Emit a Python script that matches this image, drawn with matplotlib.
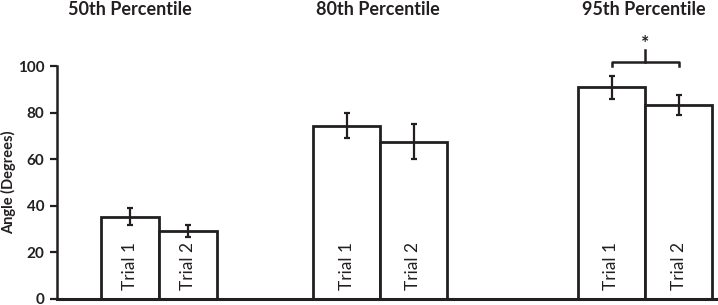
import matplotlib.pyplot as plt

groups = ['50th Percentile', '80th Percentile', '95th Percentile']
trials = ['Trial 1', 'Trial 2']
trial1 = [35.4, 74.4, 90.8]
trial2 = [29.1, 67.5, 83.3]
trial1_err = [3.6, 5.3, 4.9]
trial2_err = [2.6, 7.6, 4.4]
yticks = [0, 20, 40, 60, 80, 100]

# layout (axes units = pixels from the y axis)
centers = [102, 323, 588]
widths = [58, 67, 67]
title_x = [73, 321, 587]
ink = '#231f20'

plt.rcParams['font.family'] = ['Lato', 'DejaVu Sans']

fig = plt.figure(figsize=(7.18, 3.05), dpi=100)
ax = fig.add_axes([57 / 718, 6 / 305, 1 - 57 / 718, 233 / 305])

for i in range(len(groups)):
    w = widths[i]
    xs = [centers[i] - w / 2, centers[i] + w / 2]
    vals = [trial1[i], trial2[i]]
    errs = [trial1_err[i], trial2_err[i]]
    ax.bar(xs, vals, width=w, color='white', edgecolor=ink, linewidth=2.0, zorder=2)
    ax.errorbar(xs, vals, yerr=errs, fmt='none', ecolor=ink, elinewidth=1.6,
                capsize=2, capthick=1.6, zorder=3)
    for x, lab in zip(xs, trials):
        ax.text(x, 3.8, lab, rotation=90, ha='center', va='bottom', fontsize=12.5,
                color=ink, zorder=4)
    ax.text(title_x[i], 121.9, groups[i], ha='center', va='baseline', fontsize=13,
            fontweight='bold', color=ink, clip_on=False)

# significance bracket for 95th percentile
x1 = centers[2] - widths[2] / 2
x2 = centers[2] + widths[2] / 2
xm = (x1 + x2) / 2
ax.plot([x1, x1, x2, x2], [100.2, 101.8, 101.8, 100.2], color=ink, lw=1.8, clip_on=False)
ax.plot([xm, xm], [101.8, 106.9], color=ink, lw=1.8, clip_on=False)
ax.text(xm, 109.5, '*', ha='center', va='center', fontsize=14, fontweight='bold',
        color=ink, clip_on=False)

ax.set_xlim(0, 661)
ax.set_ylim(0, 100)
ax.set_yticks(yticks)
ax.set_yticklabels([str(t) for t in yticks], fontsize=11, fontweight='bold', color=ink)
ax.set_xticks([])
ax.tick_params(axis='y', length=5, width=1.6, color=ink, pad=4)
ax.spines['top'].set_visible(False)
ax.spines['right'].set_visible(False)
ax.spines['left'].set_linewidth(1.8)
ax.spines['bottom'].set_linewidth(2.2)
ax.spines['left'].set_color(ink)
ax.spines['bottom'].set_color(ink)
ax.set_ylabel('Angle (Degrees)', fontsize=10.5, fontweight='bold', color=ink)
ax.yaxis.set_label_coords(-0.062, 0.5)

fig.savefig('out.png', dpi=100)
